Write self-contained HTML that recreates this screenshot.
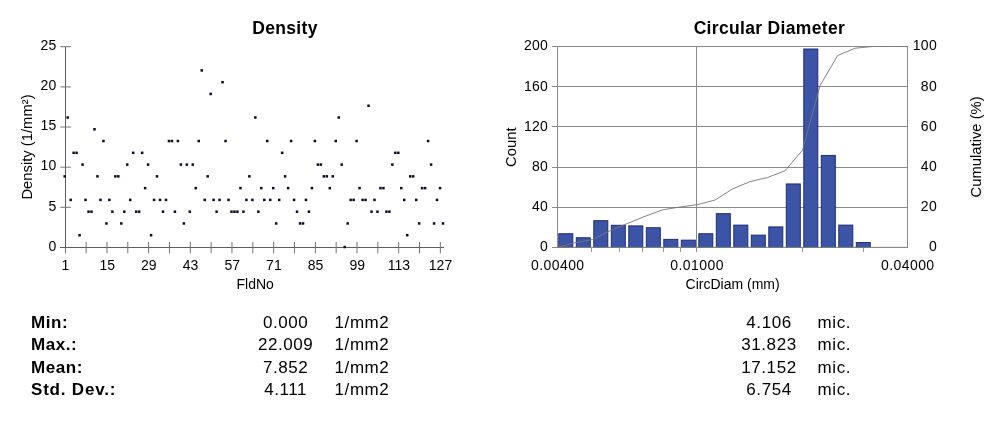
<!DOCTYPE html>
<html lang="en"><head><meta charset="utf-8"><title>Density / Circular Diameter</title>
<style>html,body{margin:0;padding:0;background:#fff}body{width:1000px;height:428px;overflow:hidden}svg{display:block}text{font-family:'Liberation Sans', Arial, Helvetica, sans-serif;fill:#000}.t{font-size:14px}.b{font-weight:bold}.ax{font-size:14.8px}.tb{font-size:17px;letter-spacing:.56px}.tt{font-size:17.5px;letter-spacing:.33px}.ls{letter-spacing:.3px}.ls4{letter-spacing:.42px}.ws{letter-spacing:.8px}</style>
</head><body>
<svg width="1000" height="428" viewBox="0 0 1000 428">
<rect width="1000" height="428" fill="#fff"/>
<g stroke="#5e5e5e" stroke-width="1" fill="none" shape-rendering="crispEdges">
<path d="M65.5 46.7V247.5"/>
<path d="M60.3 247.5H444.0"/>
</g>
<g stroke="#747474" stroke-width="1" fill="none">
<path d="M60.3 207.3H70.9"/>
<path d="M60.3 167.2H70.9"/>
<path d="M60.3 127.0H70.9"/>
<path d="M60.3 86.9H70.9"/>
<path d="M60.3 46.7H70.9"/>
<path d="M86.14 241.9V253.3"/>
<path d="M106.97 241.9V253.3"/>
<path d="M127.81 241.9V253.3"/>
<path d="M148.64 241.9V253.3"/>
<path d="M169.48 241.9V253.3"/>
<path d="M190.31 241.9V253.3"/>
<path d="M211.15 241.9V253.3"/>
<path d="M231.98 241.9V253.3"/>
<path d="M252.82 241.9V253.3"/>
<path d="M273.66 241.9V253.3"/>
<path d="M294.49 241.9V253.3"/>
<path d="M315.33 241.9V253.3"/>
<path d="M336.16 241.9V253.3"/>
<path d="M357.00 241.9V253.3"/>
<path d="M377.83 241.9V253.3"/>
<path d="M398.67 241.9V253.3"/>
<path d="M419.50 241.9V253.3"/>
<path d="M440.34 241.9V253.3"/>
<path d="M65.5 247.5V253.3"/>
</g>
<text class="t" x="56.2" y="250.7" text-anchor="end">0</text>
<text class="t" x="56.2" y="210.5" text-anchor="end">5</text>
<text class="t" x="56.2" y="170.4" text-anchor="end">10</text>
<text class="t" x="56.2" y="130.2" text-anchor="end">15</text>
<text class="t" x="56.2" y="90.1" text-anchor="end">20</text>
<text class="t" x="56.2" y="49.9" text-anchor="end">25</text>
<text class="t" x="65.5" y="270.3" text-anchor="middle">1</text>
<text class="t" x="107.2" y="270.3" text-anchor="middle">15</text>
<text class="t" x="148.8" y="270.3" text-anchor="middle">29</text>
<text class="t" x="190.5" y="270.3" text-anchor="middle">43</text>
<text class="t" x="232.2" y="270.3" text-anchor="middle">57</text>
<text class="t" x="273.9" y="270.3" text-anchor="middle">71</text>
<text class="t" x="315.5" y="270.3" text-anchor="middle">85</text>
<text class="t" x="357.2" y="270.3" text-anchor="middle">99</text>
<text class="t" x="398.9" y="270.3" text-anchor="middle">113</text>
<text class="t" x="440.5" y="270.3" text-anchor="middle">127</text>
<text class="b tt" x="285.0" y="33.5" text-anchor="middle">Density</text>
<text class="t" x="255.2" y="289.2" text-anchor="middle">FldNo</text>
<text class="ax" transform="translate(31.8 147) rotate(-90)" text-anchor="middle">Density (1/mm²)</text>
<g fill="#0b0b26">
<rect x="343.45" y="245.75" width="2.5" height="2.5"/>
<rect x="78.34" y="233.98" width="2.5" height="2.5"/>
<rect x="149.83" y="233.98" width="2.5" height="2.5"/>
<rect x="406.00" y="233.98" width="2.5" height="2.5"/>
<rect x="105.15" y="222.20" width="2.5" height="2.5"/>
<rect x="120.05" y="222.20" width="2.5" height="2.5"/>
<rect x="182.60" y="222.20" width="2.5" height="2.5"/>
<rect x="274.94" y="222.20" width="2.5" height="2.5"/>
<rect x="298.77" y="222.20" width="2.5" height="2.5"/>
<rect x="301.75" y="222.20" width="2.5" height="2.5"/>
<rect x="346.43" y="222.20" width="2.5" height="2.5"/>
<rect x="417.92" y="222.20" width="2.5" height="2.5"/>
<rect x="432.81" y="222.20" width="2.5" height="2.5"/>
<rect x="441.74" y="222.20" width="2.5" height="2.5"/>
<rect x="87.28" y="210.43" width="2.5" height="2.5"/>
<rect x="90.26" y="210.43" width="2.5" height="2.5"/>
<rect x="111.11" y="210.43" width="2.5" height="2.5"/>
<rect x="123.02" y="210.43" width="2.5" height="2.5"/>
<rect x="134.94" y="210.43" width="2.5" height="2.5"/>
<rect x="137.92" y="210.43" width="2.5" height="2.5"/>
<rect x="161.75" y="210.43" width="2.5" height="2.5"/>
<rect x="173.66" y="210.43" width="2.5" height="2.5"/>
<rect x="188.56" y="210.43" width="2.5" height="2.5"/>
<rect x="215.36" y="210.43" width="2.5" height="2.5"/>
<rect x="230.26" y="210.43" width="2.5" height="2.5"/>
<rect x="233.24" y="210.43" width="2.5" height="2.5"/>
<rect x="236.21" y="210.43" width="2.5" height="2.5"/>
<rect x="242.17" y="210.43" width="2.5" height="2.5"/>
<rect x="257.07" y="210.43" width="2.5" height="2.5"/>
<rect x="295.79" y="210.43" width="2.5" height="2.5"/>
<rect x="307.70" y="210.43" width="2.5" height="2.5"/>
<rect x="370.26" y="210.43" width="2.5" height="2.5"/>
<rect x="376.21" y="210.43" width="2.5" height="2.5"/>
<rect x="385.15" y="210.43" width="2.5" height="2.5"/>
<rect x="388.13" y="210.43" width="2.5" height="2.5"/>
<rect x="69.41" y="198.66" width="2.5" height="2.5"/>
<rect x="84.30" y="198.66" width="2.5" height="2.5"/>
<rect x="99.19" y="198.66" width="2.5" height="2.5"/>
<rect x="108.13" y="198.66" width="2.5" height="2.5"/>
<rect x="128.98" y="198.66" width="2.5" height="2.5"/>
<rect x="152.81" y="198.66" width="2.5" height="2.5"/>
<rect x="158.77" y="198.66" width="2.5" height="2.5"/>
<rect x="164.73" y="198.66" width="2.5" height="2.5"/>
<rect x="203.45" y="198.66" width="2.5" height="2.5"/>
<rect x="212.38" y="198.66" width="2.5" height="2.5"/>
<rect x="218.34" y="198.66" width="2.5" height="2.5"/>
<rect x="227.28" y="198.66" width="2.5" height="2.5"/>
<rect x="245.15" y="198.66" width="2.5" height="2.5"/>
<rect x="251.11" y="198.66" width="2.5" height="2.5"/>
<rect x="263.02" y="198.66" width="2.5" height="2.5"/>
<rect x="268.98" y="198.66" width="2.5" height="2.5"/>
<rect x="277.92" y="198.66" width="2.5" height="2.5"/>
<rect x="292.81" y="198.66" width="2.5" height="2.5"/>
<rect x="304.72" y="198.66" width="2.5" height="2.5"/>
<rect x="349.41" y="198.66" width="2.5" height="2.5"/>
<rect x="352.38" y="198.66" width="2.5" height="2.5"/>
<rect x="361.32" y="198.66" width="2.5" height="2.5"/>
<rect x="364.30" y="198.66" width="2.5" height="2.5"/>
<rect x="373.23" y="198.66" width="2.5" height="2.5"/>
<rect x="403.02" y="198.66" width="2.5" height="2.5"/>
<rect x="414.94" y="198.66" width="2.5" height="2.5"/>
<rect x="435.79" y="198.66" width="2.5" height="2.5"/>
<rect x="143.87" y="186.88" width="2.5" height="2.5"/>
<rect x="194.51" y="186.88" width="2.5" height="2.5"/>
<rect x="239.19" y="186.88" width="2.5" height="2.5"/>
<rect x="260.04" y="186.88" width="2.5" height="2.5"/>
<rect x="271.96" y="186.88" width="2.5" height="2.5"/>
<rect x="286.85" y="186.88" width="2.5" height="2.5"/>
<rect x="310.68" y="186.88" width="2.5" height="2.5"/>
<rect x="328.55" y="186.88" width="2.5" height="2.5"/>
<rect x="358.34" y="186.88" width="2.5" height="2.5"/>
<rect x="379.19" y="186.88" width="2.5" height="2.5"/>
<rect x="382.17" y="186.88" width="2.5" height="2.5"/>
<rect x="400.04" y="186.88" width="2.5" height="2.5"/>
<rect x="420.89" y="186.88" width="2.5" height="2.5"/>
<rect x="423.87" y="186.88" width="2.5" height="2.5"/>
<rect x="438.77" y="186.88" width="2.5" height="2.5"/>
<rect x="63.45" y="175.11" width="2.5" height="2.5"/>
<rect x="96.22" y="175.11" width="2.5" height="2.5"/>
<rect x="114.09" y="175.11" width="2.5" height="2.5"/>
<rect x="117.07" y="175.11" width="2.5" height="2.5"/>
<rect x="155.79" y="175.11" width="2.5" height="2.5"/>
<rect x="206.43" y="175.11" width="2.5" height="2.5"/>
<rect x="248.13" y="175.11" width="2.5" height="2.5"/>
<rect x="283.87" y="175.11" width="2.5" height="2.5"/>
<rect x="322.60" y="175.11" width="2.5" height="2.5"/>
<rect x="325.58" y="175.11" width="2.5" height="2.5"/>
<rect x="331.53" y="175.11" width="2.5" height="2.5"/>
<rect x="408.98" y="175.11" width="2.5" height="2.5"/>
<rect x="411.96" y="175.11" width="2.5" height="2.5"/>
<rect x="81.32" y="163.34" width="2.5" height="2.5"/>
<rect x="126.00" y="163.34" width="2.5" height="2.5"/>
<rect x="146.85" y="163.34" width="2.5" height="2.5"/>
<rect x="179.62" y="163.34" width="2.5" height="2.5"/>
<rect x="185.58" y="163.34" width="2.5" height="2.5"/>
<rect x="191.53" y="163.34" width="2.5" height="2.5"/>
<rect x="316.64" y="163.34" width="2.5" height="2.5"/>
<rect x="319.62" y="163.34" width="2.5" height="2.5"/>
<rect x="340.47" y="163.34" width="2.5" height="2.5"/>
<rect x="391.11" y="163.34" width="2.5" height="2.5"/>
<rect x="429.83" y="163.34" width="2.5" height="2.5"/>
<rect x="72.39" y="151.57" width="2.5" height="2.5"/>
<rect x="75.36" y="151.57" width="2.5" height="2.5"/>
<rect x="131.96" y="151.57" width="2.5" height="2.5"/>
<rect x="140.90" y="151.57" width="2.5" height="2.5"/>
<rect x="280.90" y="151.57" width="2.5" height="2.5"/>
<rect x="394.09" y="151.57" width="2.5" height="2.5"/>
<rect x="397.06" y="151.57" width="2.5" height="2.5"/>
<rect x="102.17" y="139.79" width="2.5" height="2.5"/>
<rect x="167.70" y="139.79" width="2.5" height="2.5"/>
<rect x="170.68" y="139.79" width="2.5" height="2.5"/>
<rect x="176.64" y="139.79" width="2.5" height="2.5"/>
<rect x="197.49" y="139.79" width="2.5" height="2.5"/>
<rect x="224.30" y="139.79" width="2.5" height="2.5"/>
<rect x="266.00" y="139.79" width="2.5" height="2.5"/>
<rect x="289.83" y="139.79" width="2.5" height="2.5"/>
<rect x="313.66" y="139.79" width="2.5" height="2.5"/>
<rect x="334.51" y="139.79" width="2.5" height="2.5"/>
<rect x="355.36" y="139.79" width="2.5" height="2.5"/>
<rect x="426.85" y="139.79" width="2.5" height="2.5"/>
<rect x="93.24" y="128.02" width="2.5" height="2.5"/>
<rect x="66.43" y="116.25" width="2.5" height="2.5"/>
<rect x="254.09" y="116.25" width="2.5" height="2.5"/>
<rect x="337.49" y="116.25" width="2.5" height="2.5"/>
<rect x="367.28" y="104.47" width="2.5" height="2.5"/>
<rect x="209.41" y="92.70" width="2.5" height="2.5"/>
<rect x="221.32" y="80.93" width="2.5" height="2.5"/>
<rect x="200.47" y="69.16" width="2.5" height="2.5"/>
</g>
<g stroke="#8a8a8a" stroke-width="1" fill="none" shape-rendering="crispEdges">
<path d="M552.3 247.3H907.6"/>
<path d="M552.3 207.1H907.6"/>
<path d="M552.3 167.0H907.6"/>
<path d="M552.3 126.8H907.6"/>
<path d="M552.3 86.7H907.6"/>
<path d="M552.3 46.5H907.6"/>
<path d="M557.6 46.5V247.3"/>
<path d="M907.6 46.5V247.3"/>
<path d="M696.9 46.5V252.3"/>
</g>
<g stroke="#a59b8c" stroke-width="1" fill="none" shape-rendering="crispEdges">
<path d="M591.5 247.3V252.3"/>
<path d="M619.2 247.3V252.3"/>
<path d="M642.7 247.3V252.3"/>
<path d="M663.0 247.3V252.3"/>
<path d="M680.9 247.3V252.3"/>
<path d="M802.2 247.3V252.3"/>
<path d="M863.9 247.3V252.3"/>
</g>
<g fill="#3b54a5" stroke="#1f2c76" stroke-width="1">
<rect x="558.80" y="233.74" width="14.00" height="13.56"/>
<rect x="576.30" y="237.76" width="14.00" height="9.54"/>
<rect x="593.80" y="220.69" width="14.00" height="26.61"/>
<rect x="611.30" y="225.31" width="14.00" height="21.99"/>
<rect x="628.80" y="225.91" width="14.00" height="21.39"/>
<rect x="646.30" y="227.72" width="14.00" height="19.58"/>
<rect x="663.80" y="239.37" width="14.00" height="7.93"/>
<rect x="681.30" y="240.17" width="14.00" height="7.13"/>
<rect x="698.80" y="233.74" width="14.00" height="13.56"/>
<rect x="716.30" y="213.66" width="14.00" height="33.64"/>
<rect x="733.80" y="225.11" width="14.00" height="22.19"/>
<rect x="751.30" y="235.15" width="14.00" height="12.15"/>
<rect x="768.80" y="226.92" width="14.00" height="20.38"/>
<rect x="786.30" y="183.95" width="14.00" height="63.35"/>
<rect x="803.80" y="49.01" width="14.00" height="198.29"/>
<rect x="821.30" y="155.43" width="14.00" height="91.87"/>
<rect x="838.80" y="225.11" width="14.00" height="22.19"/>
<rect x="856.30" y="242.58" width="14.00" height="4.72"/>
</g>
<path d="M557.6 247.3H907.6" stroke="#8a8a8a" stroke-width="1" fill="none"/>
<polyline points="557.6 247.3 575.1 242.7 592.6 239.5 610.1 230.7 627.6 223.4 645.1 216.3 662.6 209.8 680.1 207.0 697.6 204.6 715.1 200.0 732.6 188.9 750.1 181.6 767.6 177.5 785.1 170.7 802.6 150.0 820.1 85.5 837.6 55.6 855.1 48.2 872.6 46.5 890.1 46.5 907.6 46.5" fill="none" stroke="#777" stroke-width="0.9"/>
<text class="t ls" x="548.2" y="251.1" text-anchor="end">0</text>
<text class="t ls" x="937.0" y="251.1" text-anchor="end">0</text>
<text class="t ls" x="548.2" y="210.9" text-anchor="end">40</text>
<text class="t ls" x="937.0" y="210.9" text-anchor="end">20</text>
<text class="t ls" x="548.2" y="170.8" text-anchor="end">80</text>
<text class="t ls" x="937.0" y="170.8" text-anchor="end">40</text>
<text class="t ls" x="548.2" y="130.6" text-anchor="end">120</text>
<text class="t ls" x="937.0" y="130.6" text-anchor="end">60</text>
<text class="t ls" x="548.2" y="90.5" text-anchor="end">160</text>
<text class="t ls" x="937.0" y="90.5" text-anchor="end">80</text>
<text class="t ls" x="548.2" y="50.3" text-anchor="end">200</text>
<text class="t ls" x="937.0" y="50.3" text-anchor="end">100</text>
<text class="t ls4" x="557.8" y="270.3" text-anchor="middle">0.00400</text>
<text class="t ls4" x="697.1" y="270.3" text-anchor="middle">0.01000</text>
<text class="t ls4" x="907.8" y="270.3" text-anchor="middle">0.04000</text>
<text class="b tt" x="769.4" y="33.5" text-anchor="middle">Circular Diameter</text>
<text class="t" x="732.6" y="289.3" text-anchor="middle">CircDiam (mm)</text>
<text class="ax" transform="translate(515.7 147.2) rotate(-90)" text-anchor="middle">Count</text>
<text class="ax" transform="translate(981.4 146.9) rotate(-90)" text-anchor="middle">Cumulative (%)</text>
<text class="tb b" x="31.0" y="327.7">Min:</text>
<text class="tb" x="285.6" y="327.7" text-anchor="middle">0.000</text>
<text class="tb" x="334.6" y="327.7">1/mm2</text>
<text class="tb" x="769.0" y="327.7" text-anchor="middle">4.106</text>
<text class="tb" x="817.6" y="327.7">mic.</text>
<text class="tb b" x="31.0" y="350.2">Max.:</text>
<text class="tb" x="285.6" y="350.2" text-anchor="middle">22.009</text>
<text class="tb" x="334.6" y="350.2">1/mm2</text>
<text class="tb" x="769.0" y="350.2" text-anchor="middle">31.823</text>
<text class="tb" x="817.6" y="350.2">mic.</text>
<text class="tb b" x="31.0" y="372.8">Mean:</text>
<text class="tb" x="285.6" y="372.8" text-anchor="middle">7.852</text>
<text class="tb" x="334.6" y="372.8">1/mm2</text>
<text class="tb" x="769.0" y="372.8" text-anchor="middle">17.152</text>
<text class="tb" x="817.6" y="372.8">mic.</text>
<text class="tb b ws" x="31.0" y="395.3">Std. Dev.:</text>
<text class="tb" x="285.6" y="395.3" text-anchor="middle">4.111</text>
<text class="tb" x="334.6" y="395.3">1/mm2</text>
<text class="tb" x="769.0" y="395.3" text-anchor="middle">6.754</text>
<text class="tb" x="817.6" y="395.3">mic.</text>
</svg></body></html>
